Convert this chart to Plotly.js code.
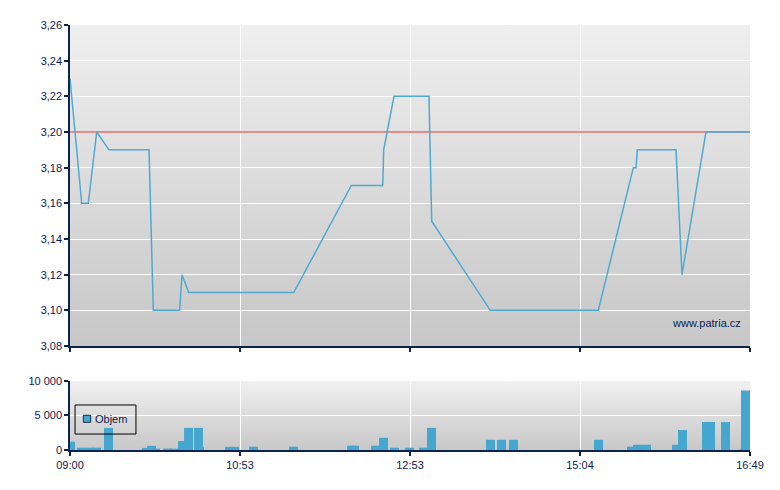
<!DOCTYPE html>
<html>
<head>
<meta charset="utf-8">
<script src="https://cdn.plot.ly/plotly-3.0.1.min.js"></script>
<style>html,body{margin:0;padding:0;background:#fff;}#chart{width:780px;height:490px;}</style>
</head>
<body>
<div id="chart"></div>
<script>
// Session position (0 = 09:00 open, 100 = 16:49 close) for each price point
const priceX = [0, 1.72, 2.69, 3.93, 5.74, 11.62, 12.25, 16.13, 16.47, 17.46, 32.9, 41.37, 45.99, 46.13, 47.65, 52.79, 53.19, 61.81, 77.69, 82.84, 83.24, 83.43, 89.12, 90.0, 93.53, 100];
const priceY = [3.23, 3.16, 3.16, 3.20, 3.19, 3.19, 3.10, 3.10, 3.12, 3.11, 3.11, 3.17, 3.17, 3.19, 3.22, 3.22, 3.15, 3.10, 3.10, 3.18, 3.18, 3.19, 3.19, 3.12, 3.20, 3.20];
const prevClose = 3.20;

// Volume buckets (session position, shares)
const volX = [0.07, 1.69, 2.87, 3.90, 5.66, 11.25, 11.99, 12.57, 14.34, 15.22, 16.54, 17.43, 18.90, 19.04, 23.46, 24.19, 26.99, 32.87, 41.40, 41.84, 44.93, 46.10, 47.72, 49.93, 51.99, 53.16, 61.84, 63.46, 65.22, 77.72, 82.57, 83.46, 84.78, 89.19, 90.07, 93.60, 94.19, 96.40, 99.19, 99.34];
const volY = [1200, 330, 330, 330, 3200, 300, 600, 200, 200, 200, 1300, 3200, 3200, 400, 450, 450, 480, 480, 620, 620, 620, 1760, 330, 330, 330, 3200, 1480, 1480, 1480, 1480, 480, 760, 760, 760, 2900, 4050, 4050, 4050, 200, 8620];

const xTickVals = [0, 25, 50, 75, 100];
const xTickText = ['09:00', '10:53', '12:53', '15:04', '16:49'];
const volTickVals = [0, 5000, 10000];
const legendLabel = 'Objem';

const navy = '#0c2352';
const barColor = '#45a7d0';
const font = {family: 'Liberation Sans, Arial, sans-serif', size: 11, color: navy};

const priceDom = [0.2447, 1];
const volDom = [0, 0.1624];

function grad(top, bottom) {
  const svg = "<svg xmlns='http://www.w3.org/2000/svg' width='10' height='100' preserveAspectRatio='none'>" +
    "<defs><linearGradient id='g' x1='0' y1='0' x2='0' y2='1'>" +
    "<stop offset='0' stop-color='" + top + "'/><stop offset='1' stop-color='" + bottom + "'/>" +
    "</linearGradient></defs><rect width='10' height='100' fill='url(#g)'/></svg>";
  return 'data:image/svg+xml;charset=utf-8,' + encodeURIComponent(svg);
}

const traces = [
  {
    type: 'bar', x: volX, y: volY, xaxis: 'x2', yaxis: 'y2', name: legendLabel,
    width: 1.32, marker: {color: barColor, line: {width: 0}}, showlegend: false
  },
  {
    type: 'scatter', mode: 'lines', x: [priceX[0], priceX[priceX.length - 1]], y: [prevClose, prevClose],
    xaxis: 'x', yaxis: 'y', line: {color: '#e36a6a', width: 1.5}, showlegend: false, name: 'Předchozí závěr'
  },
  {
    type: 'scatter', mode: 'lines', x: priceX, y: priceY, xaxis: 'x', yaxis: 'y',
    line: {color: '#4ea9d3', width: 1.5}, showlegend: false, name: 'Cena'
  }
];

const commonX = {
  range: [0, 100], tickvals: xTickVals, ticktext: xTickText,
  showgrid: true, gridcolor: '#ffffff', gridwidth: 1,
  showline: true, linecolor: navy, linewidth: 1.5,
  ticks: 'outside', ticklen: 4, tickcolor: navy, tickwidth: 1.5,
  zeroline: false, tickfont: font, fixedrange: true
};

const layout = {
  width: 780, height: 490,
  margin: {l: 70, r: 30, t: 25, b: 40},
  paper_bgcolor: '#ffffff', plot_bgcolor: 'rgba(0,0,0,0)',
  separators: ', ',
  font: font,
  xaxis: Object.assign({}, commonX, {anchor: 'y', showticklabels: false}),
  yaxis: {
    domain: priceDom, anchor: 'x', range: [3.08, 3.26], dtick: 0.02, tick0: 3.08,
    tickformat: '.2f', showgrid: true, gridcolor: '#ffffff', gridwidth: 1,
    showline: true, linecolor: navy, linewidth: 1.5,
    ticks: 'outside', ticklen: 4, tickcolor: navy, tickwidth: 1.5,
    zeroline: false, tickfont: font, fixedrange: true
  },
  xaxis2: Object.assign({}, commonX, {anchor: 'y2', matches: 'x', showticklabels: true}),
  yaxis2: {
    domain: volDom, anchor: 'x2', range: [0, 10000], tickvals: volTickVals,
    tickformat: ',d', showgrid: true, gridcolor: '#ffffff', gridwidth: 1,
    showline: true, linecolor: navy, linewidth: 1.5,
    ticks: 'outside', ticklen: 4, tickcolor: navy, tickwidth: 1.5,
    zeroline: false, tickfont: font, fixedrange: true
  },
  images: [
    {source: grad('#efefef', '#c7c7c7'), xref: 'paper', yref: 'paper', x: 0, y: priceDom[1],
     sizex: 1, sizey: priceDom[1] - priceDom[0], xanchor: 'left', yanchor: 'top', sizing: 'stretch', layer: 'below'},
    {source: grad('#f0f0f0', '#c8c8c8'), xref: 'paper', yref: 'paper', x: 0, y: volDom[1],
     sizex: 1, sizey: volDom[1] - volDom[0], xanchor: 'left', yanchor: 'top', sizing: 'stretch', layer: 'below'}
  ],
  shapes: [
    // legend frame
    {type: 'rect', xref: 'paper', yref: 'paper', x0: 0.0074, x1: 0.097, y0: 0.0376, y1: 0.1059,
     line: {color: '#000000', width: 1}, fillcolor: 'rgba(0,0,0,0)'},
    // legend swatch
    {type: 'rect', xref: 'paper', yref: 'paper', x0: 0.0196, x1: 0.0304, y0: 0.0652, y1: 0.0816,
     line: {color: '#1a2a3a', width: 1}, fillcolor: barColor}
  ],
  annotations: [
    {text: 'www.patria.cz', xref: 'paper', yref: 'paper', x: 0.99, y: 0.2988,
     xanchor: 'right', yanchor: 'middle', showarrow: false, font: font},
    {text: legendLabel, xref: 'paper', yref: 'paper', x: 0.0345, y: 0.0735,
     xanchor: 'left', yanchor: 'middle', showarrow: false, font: font}
  ],
  showlegend: false,
  hovermode: false
};

Plotly.newPlot('chart', traces, layout, {displayModeBar: false});
</script>
</body>
</html>
